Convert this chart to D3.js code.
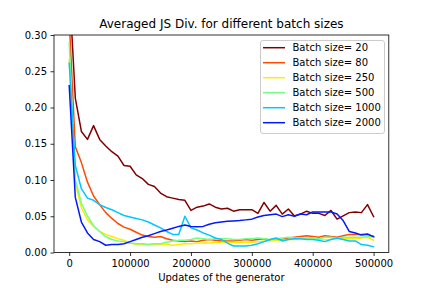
<!DOCTYPE html>
<html>
<head>
<meta charset="utf-8">
<script src="https://cdn.jsdelivr.net/npm/d3@7"></script>
<style>
  body { margin: 0; background: #fff; }
  svg { display: block; font-family: "DejaVu Sans", sans-serif; }
</style>
</head>
<body>
<svg id="chart" width="432" height="288"></svg>
<script>
// updates of the generator, one point every 10000
const steps = d3.range(0, 500001, 10000);

const seriesLabels = ['Batch size= 20', 'Batch size= 80', 'Batch size= 250',
    'Batch size= 500', 'Batch size= 1000', 'Batch size= 2000'];
const seriesColors = ['#800000', '#ff4b00', '#ffec00', '#73ff84', '#00c7ff', '#0019ff'];

const batch20 = [0.37, 0.213, 0.167, 0.156, 0.175, 0.156, 0.147, 0.139, 0.133, 0.120,
    0.119, 0.107, 0.102, 0.094, 0.091, 0.082, 0.077, 0.075, 0.073, 0.072,
    0.058, 0.0625, 0.064, 0.067, 0.0625, 0.060, 0.061, 0.057, 0.059, 0.059,
    0.059, 0.054, 0.069, 0.057, 0.065, 0.053, 0.060, 0.0505, 0.053, 0.057,
    0.054, 0.054, 0.051, 0.058, 0.046, 0.0505, 0.055, 0.056, 0.055, 0.066, 0.0495];
const batch80 = [0.32, 0.146, 0.124, 0.097, 0.078, 0.066, 0.055, 0.047, 0.040, 0.035,
    0.032, 0.028, 0.024, 0.022, 0.021, 0.022, 0.019, 0.017, 0.016, 0.015,
    0.016, 0.015, 0.017, 0.018, 0.017, 0.016, 0.016, 0.016, 0.017, 0.018,
    0.017, 0.018, 0.019, 0.017, 0.019, 0.018, 0.020, 0.021, 0.022, 0.023,
    0.022, 0.021, 0.023, 0.022, 0.021, 0.023, 0.025, 0.025, 0.025, 0.026, 0.021];
const batch250 = [0.266, 0.095, 0.062, 0.045, 0.036, 0.029, 0.025, 0.022, 0.019, 0.017,
    0.013, 0.0115, 0.011, 0.0105, 0.011, 0.0117, 0.011, 0.010, 0.011, 0.012,
    0.012, 0.013, 0.013, 0.013, 0.014, 0.014, 0.014, 0.014, 0.014, 0.014,
    0.014, 0.015, 0.016, 0.016, 0.017, 0.017, 0.018, 0.018, 0.019, 0.019,
    0.020, 0.019, 0.018, 0.018, 0.019, 0.019, 0.019, 0.019, 0.020, 0.021, 0.017];
const batch500 = [0.289, 0.10, 0.068, 0.050, 0.037, 0.029, 0.022, 0.018, 0.016, 0.015,
    0.013, 0.012, 0.012, 0.0115, 0.012, 0.012, 0.014, 0.016, 0.017, 0.017,
    0.018, 0.020, 0.019, 0.018, 0.019, 0.019, 0.019, 0.018, 0.018, 0.019,
    0.019, 0.020, 0.019, 0.018, 0.019, 0.020, 0.021, 0.020, 0.020, 0.020,
    0.020, 0.019, 0.021, 0.021, 0.020, 0.021, 0.021, 0.021, 0.021, 0.022, 0.021];
const batch1000 = [0.261, 0.12, 0.088, 0.075, 0.072, 0.066, 0.062, 0.059, 0.055, 0.051,
    0.049, 0.047, 0.045, 0.042, 0.038, 0.034, 0.029, 0.025, 0.025, 0.050,
    0.034, 0.031, 0.027, 0.024, 0.020, 0.018, 0.013, 0.009, 0.009, 0.009,
    0.010, 0.012, 0.015, 0.018, 0.020, 0.016, 0.018, 0.019, 0.019, 0.018,
    0.018, 0.017, 0.015, 0.018, 0.020, 0.018, 0.016, 0.016, 0.011, 0.010, 0.008];
const batch2000 = [0.230, 0.076, 0.042, 0.027, 0.018, 0.015, 0.010, 0.011, 0.011, 0.012,
    0.015, 0.018, 0.021, 0.023, 0.026, 0.029, 0.031, 0.0335, 0.036, 0.038,
    0.036, 0.0355, 0.036, 0.039, 0.041, 0.042, 0.043, 0.0435, 0.044, 0.045,
    0.046, 0.049, 0.051, 0.052, 0.053, 0.0495, 0.052, 0.050, 0.053, 0.052,
    0.056, 0.056, 0.056, 0.056, 0.053, 0.044, 0.029, 0.027, 0.024, 0.025, 0.022];

const seriesValues = [batch20, batch80, batch250, batch500, batch1000, batch2000];

const xTicks = [0, 100000, 200000, 300000, 400000, 500000];
const yTicks = [0, 0.05, 0.10, 0.15, 0.20, 0.25, 0.30];

// plot area (matplotlib default layout)
const plotLeft = 54, plotRight = 388.8, plotTop = 35, plotBottom = 252.5;

const svg = d3.select('#chart');

const x = d3.scaleLinear().domain([-25000, 525000]).range([plotLeft, plotRight]);
const y = d3.scaleLinear().domain([0, 0.30]).range([plotBottom, plotTop]);

svg.append('defs').append('clipPath')
    .attr('id', 'plot-clip')
    .append('rect')
    .attr('x', plotLeft).attr('y', plotTop)
    .attr('width', plotRight - plotLeft).attr('height', plotBottom - plotTop);

// 曲线
const line = d3.line()
    .x((d, i) => x(steps[i]))
    .y(d => y(d));

svg.append('g')
    .attr('clip-path', 'url(#plot-clip)')
    .selectAll('path')
    .data(seriesValues)
    .join('path')
    .attr('fill', 'none')
    .attr('stroke', (d, i) => seriesColors[i])
    .attr('stroke-width', 1.5)
    .attr('stroke-linejoin', 'round')
    .attr('stroke-linecap', 'square')
    .attr('d', line);

// axes
const xAxis = svg.append('g')
    .attr('transform', `translate(0,${plotBottom})`)
    .call(d3.axisBottom(x).tickValues(xTicks).tickFormat(d3.format('d')).tickSize(3.5).tickPadding(3.5));

const yAxis = svg.append('g')
    .attr('transform', `translate(${plotLeft},0)`)
    .call(d3.axisLeft(y).tickValues(yTicks).tickFormat(d3.format('.2f')).tickSize(3.5).tickPadding(3.5));

[xAxis, yAxis].forEach(ax => {
    ax.select('.domain').remove();
    ax.selectAll('line').attr('stroke', '#000').attr('stroke-width', 0.8);
    ax.selectAll('text').attr('fill', '#000')
        .style('font-family', '"DejaVu Sans", sans-serif')
        .style('font-size', '10px');
});

// frame
svg.append('rect')
    .attr('x', plotLeft).attr('y', plotTop)
    .attr('width', plotRight - plotLeft).attr('height', plotBottom - plotTop)
    .attr('fill', 'none')
    .attr('stroke', '#000')
    .attr('stroke-width', 0.8);

// title + axis label
svg.append('text')
    .attr('x', (plotLeft + plotRight) / 2).attr('y', 28)
    .attr('text-anchor', 'middle')
    .attr('font-size', '12px')
    .attr('fill', '#000')
    .text('Averaged JS Div. for different batch sizes');

svg.append('text')
    .attr('x', (plotLeft + plotRight) / 2).attr('y', 280.5)
    .attr('text-anchor', 'middle')
    .attr('font-size', '10px')
    .attr('fill', '#000')
    .text('Updates of the generator');

// legend
const legend = svg.append('g').attr('transform', 'translate(260.5,40.5)');

legend.append('rect')
    .attr('width', 124).attr('height', 93)
    .attr('rx', 2.5)
    .attr('fill', 'rgba(255,255,255,0.8)')
    .attr('stroke', '#cccccc')
    .attr('stroke-width', 1);

const rows = legend.selectAll('.legend-row')
    .data(seriesLabels)
    .join('g')
    .attr('class', 'legend-row')
    .attr('transform', (d, i) => `translate(0,${7.2 + i * 15})`);

rows.append('line')
    .attr('x1', 2.5).attr('x2', 24.5)
    .attr('stroke', (d, i) => seriesColors[i])
    .attr('stroke-width', 1.5);

rows.append('text')
    .attr('x', 32)
    .attr('dy', '0.35em')
    .attr('font-size', '10px')
    .attr('fill', '#000')
    .text(d => d);
</script>
</body>
</html>
